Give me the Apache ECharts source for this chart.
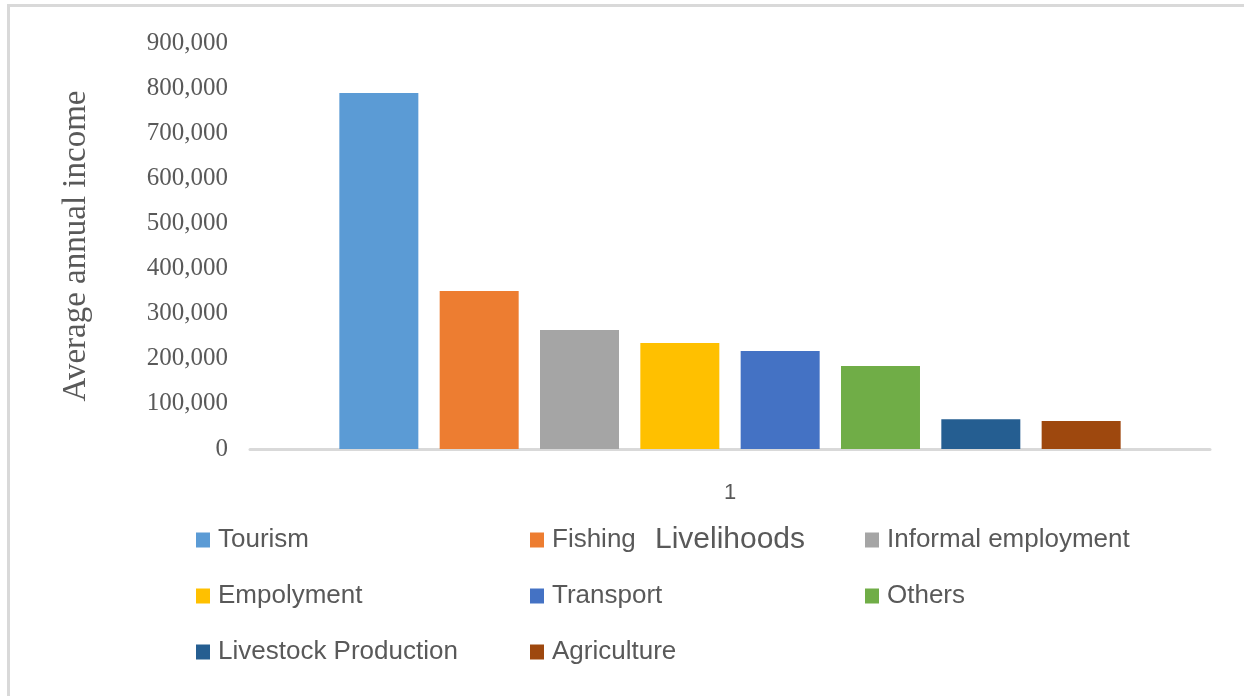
<!DOCTYPE html>
<html>
<head>
<meta charset="utf-8">
<script src="https://cdn.jsdelivr.net/npm/echarts@6/dist/echarts.min.js"></script>
<style>html,body{margin:0;padding:0;background:#fff;}#chart{width:1244px;height:696px;}</style>
</head>
<body>
<div id="chart"></div>
<script>
const categories = ['1'];
const seriesNames = ['Tourism', 'Fishing', 'Informal employment', 'Empolyment', 'Transport', 'Others', 'Livestock Production', 'Agriculture'];
const seriesValues = [789000, 350000, 264000, 235000, 217000, 184000, 66000, 62000];
const seriesColors = ['#5B9BD5', '#ED7D31', '#A5A5A5', '#FFC000', '#4472C4', '#70AD47', '#255E91', '#9E480E'];
const yTicks = [0, 100000, 200000, 300000, 400000, 500000, 600000, 700000, 800000, 900000];
const legendColumns = [
  ['Tourism', 'Empolyment', 'Livestock Production'],
  ['Fishing', 'Transport', 'Agriculture'],
  ['Informal employment', 'Others']
];
const legendLefts = [191, 525, 860];

const chart = echarts.init(document.getElementById('chart'));
const gray = '#595959';

const series = seriesNames.map((n, i) => ({
  name: n,
  type: 'bar',
  data: [seriesValues[i]],
  barWidth: 79,
  barGap: '27%',
  itemStyle: { color: seriesColors[i] }
}));

const legends = legendColumns.map((col, i) => ({
  orient: 'vertical',
  left: legendLefts[i],
  top: 522,
  data: col,
  icon: 'rect',
  itemWidth: 14,
  itemHeight: 15,
  itemGap: 30,
  selectedMode: false,
  textStyle: { fontFamily: 'Liberation Sans', fontSize: 26, color: gray, lineHeight: 24, padding: [0, 0, 0, 3] }
}));

chart.setOption({
  animation: false,
  backgroundColor: '#fff',
  color: seriesColors,
  grid: { left: 250, right: 34, top: 43, bottom: 247, containLabel: false },
  legend: legends,
  xAxis: {
    type: 'category',
    data: categories,
    name: 'Livelihoods',
    nameLocation: 'middle',
    nameGap: 76,
    nameTextStyle: { fontFamily: 'Liberation Sans', fontSize: 30, color: gray },
    axisLine: { lineStyle: { color: '#d9d9d9', width: 3 } },
    axisTick: { show: false },
    axisLabel: { fontFamily: 'Liberation Sans', fontSize: 22, color: gray, margin: 33 }
  },
  yAxis: {
    type: 'value',
    min: yTicks[0],
    max: yTicks[yTicks.length - 1],
    interval: yTicks[1] - yTicks[0],
    name: 'Average annual income',
    nameLocation: 'middle',
    nameRotate: 90,
    nameGap: 157,
    nameTextStyle: { fontFamily: 'Liberation Serif', fontSize: 33, color: gray },
    axisLine: { show: false },
    axisTick: { show: false },
    splitLine: { show: false },
    axisLabel: {
      fontFamily: 'Liberation Serif', fontSize: 25, color: gray, margin: 22,
      formatter: v => v.toLocaleString('en-US')
    }
  },
  graphic: [
    { type: 'rect', shape: { x: 7, y: 4, width: 1237, height: 3 }, style: { fill: '#d9d9d9' }, silent: true },
    { type: 'rect', shape: { x: 7, y: 4, width: 3, height: 692 }, style: { fill: '#d9d9d9' }, silent: true }
  ],
  series: series
});
</script>
</body>
</html>
